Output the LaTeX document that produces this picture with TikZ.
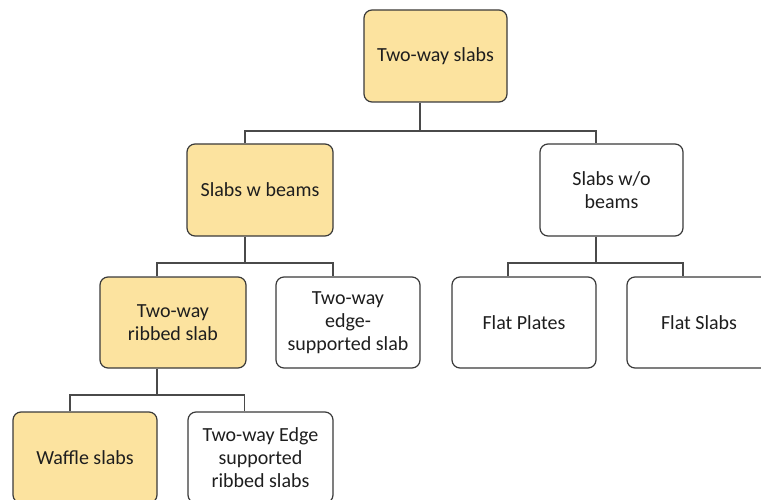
\documentclass[tikz,border=0pt]{standalone}
\usepackage{fontspec}
\setmainfont{Carlito}
\definecolor{boxfill}{HTML}{FCE39F}
\definecolor{boxline}{HTML}{3A3A3A}
\definecolor{linkcol}{HTML}{4A4A4A}
\definecolor{txt}{HTML}{1E1E1E}
\tikzset{
  box/.style={draw=boxline, line width=1.2pt, rounded corners=8pt,
    minimum width=144pt, minimum height=91pt, inner sep=2pt,
    align=center, text=txt, font=\fontsize{20}{23}\selectfont},
  hot/.style={box, fill=boxfill},
  plain/.style={box, fill=white},
  link/.style={draw=linkcol, line width=1.3pt},
}
\begin{document}
\begin{tikzpicture}[x=1pt, y=-1pt]
\useasboundingbox (0,0) rectangle (761,500);
\clip (0,0) rectangle (761,500);

% boxes
\node[hot, minimum width=143pt, minimum height=92pt] (top) at (435.5,56) {Two-way slabs};
\node[hot, minimum width=146pt, minimum height=92pt] (swb) at (260,190) {Slabs w beams};
\node[plain, minimum width=143pt, minimum height=92pt] (swob) at (611.5,190) {Slabs w/o\\beams};
\node[hot, minimum width=146pt] (rib) at (173,322.5) {Two-way\\ribbed slab};
\node[plain] (edge) at (348,322.5) {Two-way\\edge-\\supported slab};
\node[plain] (plates) at (524,322.5) {Flat Plates};
\node[plain] (fslabs) at (699,322.5) {Flat Slabs};
\node[hot] (waffle) at (85,457.5) {Waffle slabs};
\node[plain, minimum width=145pt] (edgerib) at (260.5,457.5) {Two-way Edge\\supported\\ribbed slabs};

% junction levels
\coordinate (j1) at (0,131);
\coordinate (j2) at (0,263);
\coordinate (j3) at (0,395);

% tree connectors
\draw[link] ([xshift=-15.5pt]top.south) -- ([xshift=-15.5pt]top.south |- j1);
\draw[link] ([xshift=-15pt]swb.north) -- ([xshift=-15pt]swb.north |- j1)
  -- ([xshift=-15.5pt]swob.north |- j1) -- ([xshift=-15.5pt]swob.north);

\draw[link] ([xshift=-15pt]swb.south) -- ([xshift=-15pt]swb.south |- j2);
\draw[link] ([xshift=-16pt]rib.north) -- ([xshift=-16pt]rib.north |- j2)
  -- ([xshift=-15pt]edge.north |- j2) -- ([xshift=-15pt]edge.north);

\draw[link] ([xshift=-15.5pt]swob.south) -- ([xshift=-15.5pt]swob.south |- j2);
\draw[link] ([xshift=-16pt]plates.north) -- ([xshift=-16pt]plates.north |- j2)
  -- ([xshift=-16pt]fslabs.north |- j2) -- ([xshift=-16pt]fslabs.north);

\draw[link] ([xshift=-16pt]rib.south) -- ([xshift=-16pt]rib.south |- j3);
\draw[link] ([xshift=-15pt]waffle.north) -- ([xshift=-15pt]waffle.north |- j3)
  -- ([xshift=-16pt]edgerib.north |- j3) -- ([xshift=-16pt]edgerib.north);
\end{tikzpicture}
\end{document}
